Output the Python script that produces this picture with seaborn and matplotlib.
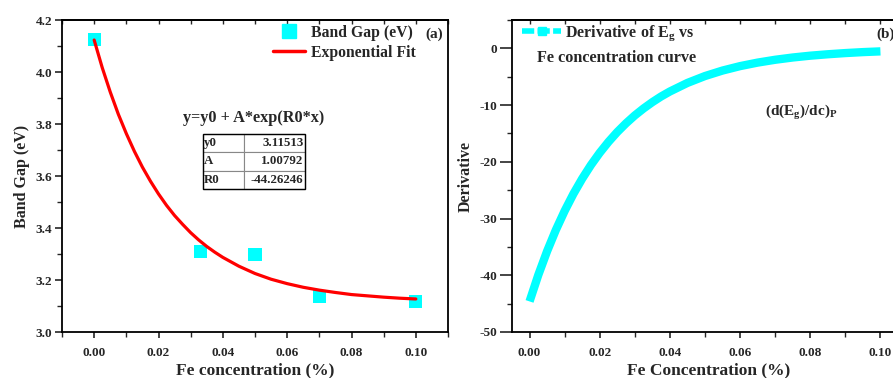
import matplotlib
matplotlib.use("Agg")
import matplotlib.pyplot as plt
from matplotlib.lines import Line2D
from matplotlib.ticker import MultipleLocator
import seaborn as sns
import pandas as pd

# --- data ---
fe_conc = [0.0, 0.033, 0.05, 0.07, 0.10]
band_gap = [4.125, 3.31, 3.297, 3.137, 3.117]

fit_x = [0.0, 0.0025, 0.005, 0.0075, 0.01, 0.0125, 0.015, 0.0175, 0.02, 0.0225,
         0.025, 0.0275, 0.03, 0.0325, 0.035, 0.0375, 0.04, 0.045, 0.05,
         0.055, 0.06, 0.065, 0.07, 0.075, 0.08, 0.085, 0.09, 0.095, 0.10]
fit_y = [4.123, 4.017, 3.923, 3.838, 3.763, 3.695, 3.634, 3.580, 3.531, 3.487,
         3.448, 3.414, 3.382, 3.354, 3.329, 3.307, 3.287, 3.253, 3.225,
         3.203, 3.186, 3.172, 3.161, 3.152, 3.144, 3.139, 3.134, 3.130, 3.127]
deriv_y = [-44.61, -39.94, -35.76, -32.01, -28.66, -25.65, -22.97, -20.56, -18.41, -16.48,
           -14.75, -13.21, -11.82, -10.59, -9.48, -8.48, -7.60, -6.09, -4.88,
           -3.91, -3.13, -2.51, -2.01, -1.61, -1.29, -1.04, -0.83, -0.66, -0.53]

param_names = ["y0", "A", "R0"]
param_values = ["3.11513", "1.00792", "-44.26246"]

df_pts = pd.DataFrame({"x": fe_conc, "y": band_gap})
df_fit = pd.DataFrame({"x": fit_x, "y": fit_y, "d": deriv_y})

sns.set_theme(style="ticks")
plt.rcParams.update({
    "font.family": ["Liberation Serif", "DejaVu Serif"],
    "font.weight": "bold",
    "axes.labelweight": "bold",
    "axes.unicode_minus": False,
    "mathtext.fontset": "custom",
    "mathtext.rm": "Liberation Serif:bold",
    "mathtext.it": "Liberation Serif:bold",
    "mathtext.bf": "Liberation Serif:bold",
    "mathtext.default": "bf",
    "axes.linewidth": 1.3,
    "axes.edgecolor": "black",
})

fig = plt.figure(figsize=(8.93, 3.78), dpi=100)
ax1 = fig.add_axes([62 / 893, 46 / 378, 386 / 893, 312 / 378])
ax2 = fig.add_axes([512 / 893, 46 / 378, 393 / 893, 312 / 378])

CYAN = "#00FFFF"
XTICKS = [0.0, 0.02, 0.04, 0.06, 0.08, 0.10]

# ===== panel (a) =====
sns.lineplot(data=df_fit, x="x", y="y", ax=ax1, color="red", lw=2.3, legend=False)
sns.scatterplot(data=df_pts, x="x", y="y", ax=ax1, marker="s", s=90, color=CYAN,
                edgecolor="none", legend=False, zorder=1)
ax1.set_xlim(-0.01, 0.11)
ax1.set_ylim(3.0, 4.2)
ax1.set_xticks(XTICKS)
ax1.xaxis.set_minor_locator(MultipleLocator(0.01))
ax1.yaxis.set_major_locator(MultipleLocator(0.2))
ax1.yaxis.set_minor_locator(MultipleLocator(0.1))
ax1.set_xlabel("Fe concentration (%)", fontsize=12.5, labelpad=2)
ax1.set_ylabel("Band Gap (eV)", fontsize=11.5, labelpad=4)

handles = [Line2D([], [], marker="s", ls="none", color=CYAN, ms=10),
           Line2D([], [], color="red", lw=2.5)]
ax1.legend(handles, ["Band Gap (eV)", "Exponential Fit"], loc="upper right",
           bbox_to_anchor=(0.953, 1.03), frameon=False, fontsize=11.3,
           handlelength=2.0, handletextpad=0.4, labelspacing=0.25)
ax1.text(0.963, 0.955, "(a)", transform=ax1.transAxes, fontsize=11,
         ha="center", va="center")
ax1.text(0.497, 0.686, "y=y0 + A*exp(R0*x)", transform=ax1.transAxes,
         fontsize=11.7, ha="center", va="center")

tbl = ax1.table(cellText=[[n, v] for n, v in zip(param_names, param_values)],
                bbox=[0.364, 0.458, 0.266, 0.178], cellLoc="left",
                colWidths=[0.4, 0.6])
tbl.auto_set_font_size(False)
for (r, c), cell in tbl.get_celld().items():
    cell.set_edgecolor("#888888")
    cell.set_linewidth(0.8)
    cell.get_text().set_fontsize(9.3)
    cell.get_text().set_fontweight("bold")
    cell.PAD = 0.03
    if c == 1:
        cell.get_text().set_ha("right")
        cell._loc = "right"
ax1.add_patch(plt.Rectangle((0.364, 0.458), 0.266, 0.178, transform=ax1.transAxes,
                            fill=False, edgecolor="black", lw=1.0, zorder=5))

# ===== panel (b) =====
sns.lineplot(data=df_fit, x="x", y="d", ax=ax2, color=CYAN, lw=6,
             solid_capstyle="butt", legend=False)
ax2.set_xlim(-0.005, 0.107)
ax2.set_ylim(-50, 5)
ax2.set_xticks(XTICKS)
ax2.xaxis.set_minor_locator(MultipleLocator(0.01))
ax2.yaxis.set_major_locator(MultipleLocator(10))
ax2.yaxis.set_minor_locator(MultipleLocator(5))
ax2.set_xlabel("Fe Concentration (%)", fontsize=12.5, labelpad=2)
ax2.set_ylabel("Derivative", fontsize=11.5, labelpad=4)

h2 = [Line2D([], [], color=CYAN, lw=4, ls=(0, (2.2, 0.6)), marker="s", ms=6)]
ax2.legend(h2, ["Derivative of $E_g$ vs"], loc="upper left", bbox_to_anchor=(-0.01, 1.035),
           frameon=False, fontsize=11.5, handlelength=2.4, handletextpad=0.25)
ax2.text(0.064, 0.878, "Fe concentration curve", transform=ax2.transAxes,
         fontsize=11.7, ha="left", va="center")
ax2.text(0.735, 0.705, "$(d(E_g)/dc)_P$", transform=ax2.transAxes,
         fontsize=11, ha="center", va="center")
ax2.text(0.928, 0.955, "(b)", transform=ax2.transAxes, fontsize=11,
         ha="left", va="center")

for ax in (ax1, ax2):
    for lbl in ax.get_xticklabels() + ax.get_yticklabels():
        lbl.set_fontweight("bold")
        lbl.set_fontsize(9.5)
    ax.tick_params(axis="x", which="major", direction="out", length=4, width=1.2, pad=7)
    ax.tick_params(axis="x", which="minor", direction="out", length=3.5, width=1.0)
    ax.tick_params(axis="y", which="major", direction="out", length=5, width=1.2, pad=2)
    ax.tick_params(axis="y", which="minor", direction="out", length=3.5, width=1.0)
    ax.grid(False)
    # inward ticks along the top edge, no labels
    top = ax.secondary_xaxis("top")
    top.set_xticks(XTICKS)
    top.xaxis.set_minor_locator(MultipleLocator(0.01))
    top.tick_params(which="both", direction="in", length=3, width=1.0, labeltop=False)
    top.set_xticklabels([])

ax2.tick_params(axis="y", which="major", length=8.5)

fig.savefig("out.png", dpi=100)
